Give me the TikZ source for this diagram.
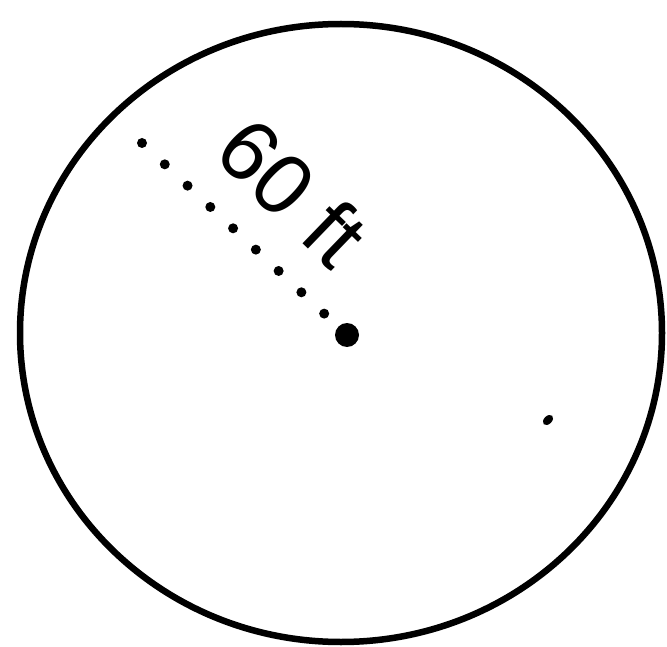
\documentclass[tikz,border=0pt]{standalone}
\usepackage{fontspec}
\setmainfont{Liberation Sans}
\begin{document}
\begin{tikzpicture}[x=1pt,y=-1pt,
  rim/.style={draw=black,line width=6.5pt},
  centerdot/.style={circle,fill=black,inner sep=0pt,minimum size=24pt},
  radiusline/.style={line width=10pt,line cap=round,dash pattern=on 0pt off 31.2pt},
  lbl/.style={font=\fontsize{86}{86}\selectfont,inner sep=0pt,rotate=-44}]
\useasboundingbox (0,0) rectangle (667,647);
\fill[white] (0,0) rectangle (667,647);
\draw[rim] (341,333) ellipse [x radius=321, y radius=309];
\node[centerdot] (c) at (347,335) {};
\coordinate (s) at (142,143);
\draw[radiusline] (s) -- (c.center);
\node[lbl] (t) at (293,192) {60 ft};
\fill[black,rotate around={45:(548,420)}] (548,420) ellipse [x radius=6, y radius=4];
\end{tikzpicture}
\end{document}
